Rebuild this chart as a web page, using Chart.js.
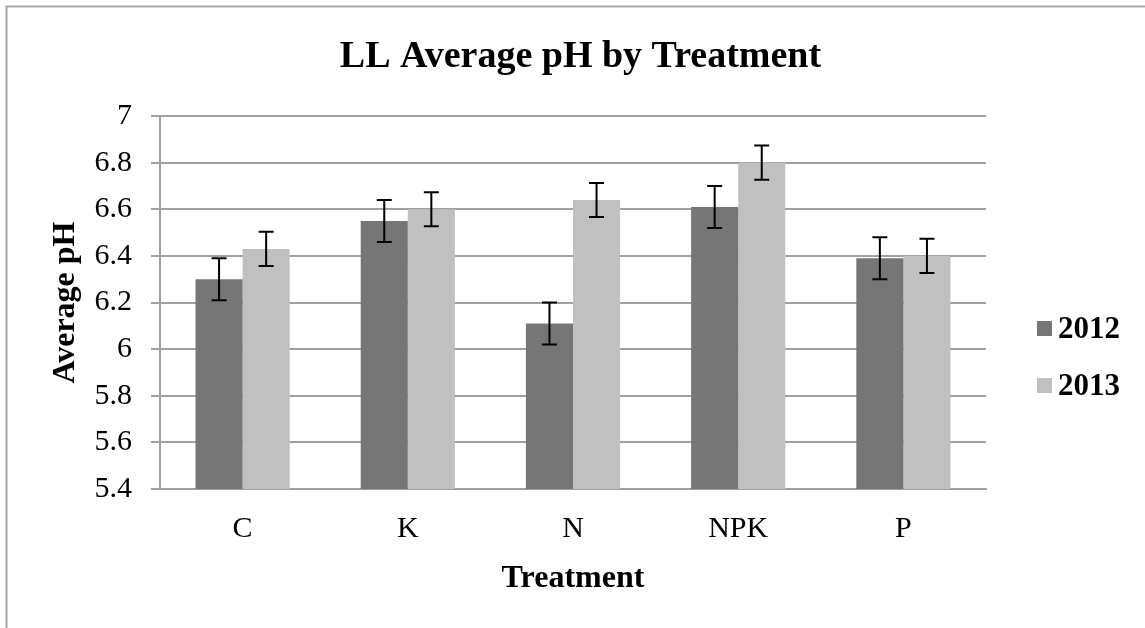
<!doctype html>
<html><head><meta charset="utf-8">
<title>LL Average pH by Treatment</title>
<script src="https://cdn.jsdelivr.net/npm/chart.js"></script>
<style>
  html, body { margin: 0; padding: 0; background: #fff; overflow: hidden; }
  canvas { display: block; }
</style>
</head><body>
<canvas id="phChart" width="1145" height="628"></canvas>
<script>
// values
const treatments = ['C', 'K', 'N', 'NPK', 'P'];
const seriesNames = ['2012', '2013'];
const ph2012 = [6.30, 6.55, 6.11, 6.61, 6.39];
const ph2013 = [6.43, 6.60, 6.64, 6.80, 6.40];
const err2012 = [0.09, 0.09, 0.09, 0.09, 0.09];
const err2013 = [0.073, 0.073, 0.073, 0.073, 0.073];
const yTicks = [5.4, 5.6, 5.8, 6, 6.2, 6.4, 6.6, 6.8, 7];
const chartTitle = 'LL Average pH by Treatment';

const serif = "'Liberation Serif', 'Times New Roman', serif";
const gridGray = '#a0a0a0';

// error bars drawn from the dataset's own bars and y scale
const errorBars = {
  id: 'errorBars',
  afterDatasetsDraw(chart) {
    const { ctx, scales: { y } } = chart;
    ctx.save();
    ctx.strokeStyle = '#000';
    ctx.lineWidth = 2;
    chart.data.datasets.forEach((ds, i) => {
      const meta = chart.getDatasetMeta(i);
      meta.data.forEach((bar, j) => {
        const v = ds.data[j], e = ds.errors[j];
        const top = y.getPixelForValue(v + e);
        const bot = y.getPixelForValue(v - e);
        const x = bar.x;
        ctx.beginPath();
        ctx.moveTo(x, top); ctx.lineTo(x, bot);
        ctx.moveTo(x - 7.5, top); ctx.lineTo(x + 7.5, top);
        ctx.moveTo(x - 7.5, bot); ctx.lineTo(x + 7.5, bot);
        ctx.stroke();
      });
    });
    ctx.restore();
  }
};

// frame (only top and left edges show in the crop), title centred on the whole frame, legend on the right
const frameTitleLegend = {
  id: 'frameTitleLegend',
  beforeDraw(chart) {
    const { ctx } = chart;
    ctx.save();
    ctx.fillStyle = '#fff';
    ctx.fillRect(0, 0, chart.width, chart.height);
    ctx.strokeStyle = '#a6a6a6';
    ctx.lineWidth = 2;
    ctx.beginPath();
    ctx.moveTo(6.5, chart.height + 5);
    ctx.lineTo(6.5, 6.5);
    ctx.lineTo(chart.width + 5, 6.5);
    ctx.stroke();
    ctx.restore();
  },
  afterDraw(chart) {
    const { ctx } = chart;
    ctx.save();
    ctx.fillStyle = '#000';
    ctx.font = "bold 38px " + serif;
    ctx.textAlign = 'center';
    ctx.textBaseline = 'middle';
    ctx.fillText(chartTitle, chart.width / 2 + 8, 57);

    ctx.font = "bold 31px " + serif;
    ctx.textAlign = 'left';
    chart.data.datasets.forEach((ds, i) => {
      const cy = 329 + i * 57;
      ctx.fillStyle = ds.backgroundColor;
      ctx.fillRect(1037, cy - 8, 15, 15);
      ctx.fillStyle = '#000';
      ctx.fillText(ds.label, 1058, cy + 1);
    });
    ctx.restore();
  }
};

new Chart(document.getElementById('phChart'), {
  type: 'bar',
  data: {
    labels: treatments,
    datasets: [
      { label: seriesNames[0], data: ph2012, errors: err2012, backgroundColor: '#767676' },
      { label: seriesNames[1], data: ph2013, errors: err2013, backgroundColor: '#c0c0c0' }
    ]
  },
  options: {
    responsive: false,
    animation: false,
    layout: { padding: { left: 0, right: 159, top: 116, bottom: 0 } },
    datasets: { bar: { categoryPercentage: 0.57, barPercentage: 1.0 } },
    plugins: {
      legend: { display: false },
      tooltip: { enabled: false },
      title: { display: false }
    },
    scales: {
      x: {
        grid: { display: false, drawTicks: false },
        border: { display: true, color: gridGray, width: 2 },
        ticks: { color: '#000', font: { family: serif, size: 30 }, padding: 22 },
        title: {
          display: true, text: 'Treatment', color: '#000',
          font: { family: serif, size: 32, weight: 'bold' },
          padding: { top: 0, bottom: 30 }
        },
        afterFit(scale) { scale.height = 139; }
      },
      y: {
        min: 5.4,
        max: 7,
        afterBuildTicks(scale) { scale.ticks = yTicks.map(v => ({ value: v })); },
        grid: { color: gridGray, lineWidth: 2, tickLength: 9 },
        border: { display: true, color: gridGray, width: 2 },
        ticks: {
          color: '#000', font: { family: serif, size: 30 }, padding: 19,
          callback: v => String(Number(v.toFixed(1)))
        },
        title: {
          display: true, text: 'Average pH', color: '#000',
          font: { family: serif, size: 32, weight: 'bold' },
          padding: { top: 47, bottom: 0 }
        },
        afterFit(scale) { scale.width = 160; }
      }
    }
  },
  plugins: [errorBars, frameTitleLegend]
});
</script>
</body></html>
